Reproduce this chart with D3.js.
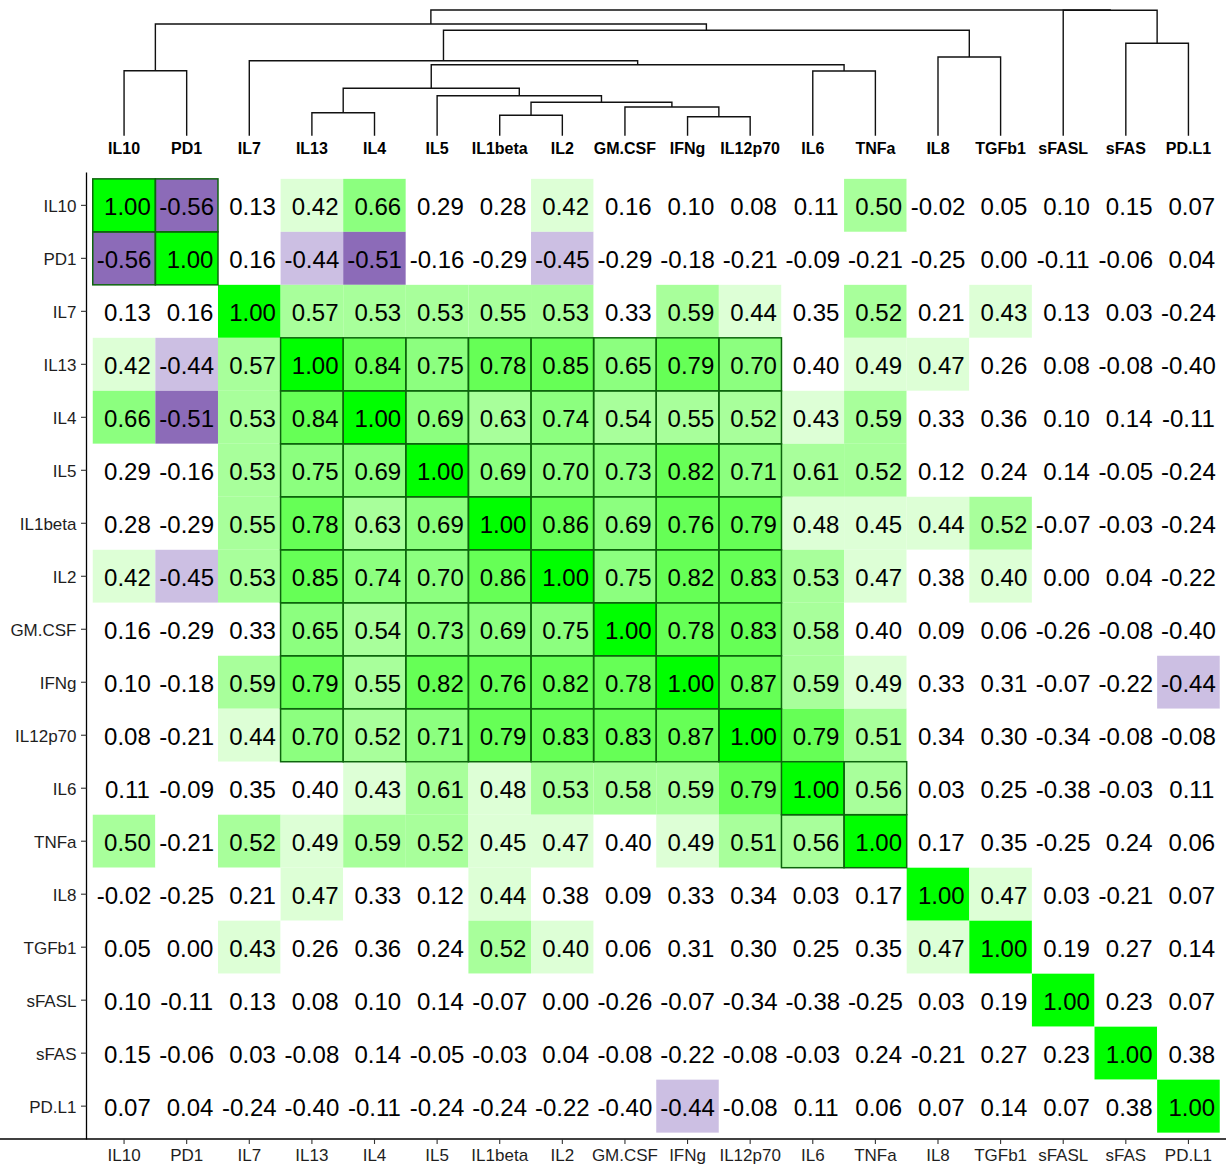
<!DOCTYPE html>
<html><head><meta charset="utf-8">
<script src="https://cdn.jsdelivr.net/npm/d3@7"></script>
<style>body{margin:0;background:#fff} svg{display:block}</style>
</head><body><svg id="c" width="1226" height="1165"></svg>
<script>
// ---------------- data ----------------
const variables = ["IL10","PD1","IL7","IL13","IL4","IL5","IL1beta","IL2","GM.CSF","IFNg","IL12p70","IL6","TNFa","IL8","TGFb1","sFASL","sFAS","PD.L1"];

const corrRows = [
 [1.00,-0.56,0.13,0.42,0.66,0.29,0.28,0.42,0.16,0.10,0.08,0.11,0.50,-0.02,0.05,0.10,0.15,0.07],
 [-0.56,1.00,0.16,-0.44,-0.51,-0.16,-0.29,-0.45,-0.29,-0.18,-0.21,-0.09,-0.21,-0.25,0.00,-0.11,-0.06,0.04],
 [0.13,0.16,1.00,0.57,0.53,0.53,0.55,0.53,0.33,0.59,0.44,0.35,0.52,0.21,0.43,0.13,0.03,-0.24],
 [0.42,-0.44,0.57,1.00,0.84,0.75,0.78,0.85,0.65,0.79,0.70,0.398,0.49,0.47,0.26,0.08,-0.08,-0.398],
 [0.66,-0.51,0.53,0.84,1.00,0.69,0.63,0.74,0.54,0.55,0.52,0.43,0.59,0.33,0.36,0.10,0.14,-0.11],
 [0.29,-0.16,0.53,0.75,0.69,1.00,0.69,0.70,0.73,0.82,0.71,0.61,0.52,0.12,0.24,0.14,-0.05,-0.24],
 [0.28,-0.29,0.55,0.78,0.63,0.69,1.00,0.86,0.69,0.76,0.79,0.48,0.45,0.44,0.52,-0.07,-0.03,-0.24],
 [0.42,-0.45,0.53,0.85,0.74,0.70,0.86,1.00,0.75,0.82,0.83,0.53,0.47,0.38,0.402,0.00,0.04,-0.22],
 [0.16,-0.29,0.33,0.65,0.54,0.73,0.69,0.75,1.00,0.78,0.83,0.58,0.398,0.09,0.06,-0.26,-0.08,-0.398],
 [0.10,-0.18,0.59,0.79,0.55,0.82,0.76,0.82,0.78,1.00,0.87,0.59,0.49,0.33,0.31,-0.07,-0.22,-0.44],
 [0.08,-0.21,0.44,0.70,0.52,0.71,0.79,0.83,0.83,0.87,1.00,0.79,0.51,0.34,0.30,-0.34,-0.08,-0.08],
 [0.11,-0.09,0.35,0.398,0.43,0.61,0.48,0.53,0.58,0.59,0.79,1.00,0.56,0.03,0.25,-0.38,-0.03,0.11],
 [0.50,-0.21,0.52,0.49,0.59,0.52,0.45,0.47,0.398,0.49,0.51,0.56,1.00,0.17,0.35,-0.25,0.24,0.06],
 [-0.02,-0.25,0.21,0.47,0.33,0.12,0.44,0.38,0.09,0.33,0.34,0.03,0.17,1.00,0.47,0.03,-0.21,0.07],
 [0.05,0.00,0.43,0.26,0.36,0.24,0.52,0.402,0.06,0.31,0.30,0.25,0.35,0.47,1.00,0.19,0.27,0.14],
 [0.10,-0.11,0.13,0.08,0.10,0.14,-0.07,0.00,-0.26,-0.07,-0.34,-0.38,-0.25,0.03,0.19,1.00,0.23,0.07],
 [0.15,-0.06,0.03,-0.08,0.14,-0.05,-0.03,0.04,-0.08,-0.22,-0.08,-0.03,0.24,-0.21,0.27,0.23,1.00,0.38],
 [0.07,0.04,-0.24,-0.398,-0.11,-0.24,-0.24,-0.22,-0.398,-0.44,-0.08,0.11,0.06,0.07,0.14,0.07,0.38,1.00]
];

// hclust-style merge table: negative = leaf (1-based), positive = earlier merge (1-based), height
const merges = [
 [-1,-2,0.650],
 [-4,-5,0.230],
 [-7,-8,0.204],
 [-10,-11,0.190],
 [-9,4,0.287],
 [3,5,0.334],
 [-6,6,0.400],
 [2,7,0.474],
 [-12,-13,0.647],
 [8,9,0.710],
 [-3,10,0.750],
 [-14,-15,0.787],
 [11,12,1.054],
 [1,13,1.117],
 [-17,-18,0.924],
 [-16,15,1.255],
 [14,16,1.257]
];

const clusterGroups = [
 ["IL10","PD1"],
 ["IL13","IL4","IL5","IL1beta","IL2","GM.CSF","IFNg","IL12p70"],
 ["IL6","TNFa"]
];

const colorBreaks = [-0.5,-0.4,0.4,0.5,0.64,0.755,0.95];
const colorBins = ["#8c6bb8","#ccbfe3","#ffffff","#ddffd6","#a8ff9b","#8cff7f","#66ff56","#00ff00"];

// ---------------- drawing ----------------
const svg = d3.select("#c");
const W = 1226, H = 1165;
const FONT = "'Liberation Sans', Arial, Helvetica, sans-serif";
svg.append("rect").attr("width",W).attr("height",H).attr("fill","#fff");

const x = d3.scaleBand().domain(variables).range([86.5, 1226]).paddingInner(0).paddingOuter(0.1);
const y = d3.scaleBand().domain(variables).range([172.5, 1139]).paddingInner(0).paddingOuter(0.12);
const color = d3.scaleThreshold().domain(colorBreaks).range(colorBins);
const loc = d3.formatLocale({decimal:".",thousands:",",grouping:[3],currency:["",""],minus:"-"});
const fmt = loc.format(" .2f");

const cells = [];
variables.forEach((rv,i)=>variables.forEach((cv,j)=>cells.push({row:rv,col:cv,v:corrRows[i][j]})));

const clusterOf = {};
clusterGroups.forEach((g,k)=>g.forEach(v=>clusterOf[v]=k));

svg.append("g").selectAll("rect").data(cells).join("rect")
  .attr("x",d=>x(d.col)).attr("y",d=>y(d.row))
  .attr("width",x.bandwidth()).attr("height",y.bandwidth())
  .attr("fill",d=>color(d.v));

const boxed = cells.filter(d=>clusterOf[d.row]!==undefined && clusterOf[d.row]===clusterOf[d.col]);
svg.append("g").selectAll("rect").data(boxed).join("rect")
  .attr("x",d=>x(d.col)).attr("y",d=>y(d.row))
  .attr("width",x.bandwidth()).attr("height",y.bandwidth())
  .attr("fill","none").attr("stroke","#0d650d").attr("stroke-width",1.5);

svg.append("g").selectAll("text").data(cells).join("text")
  .attr("x",d=>x(d.col)+x.bandwidth()/2).attr("y",d=>y(d.row)+y.bandwidth()/2)
  .attr("dy","0.41em").attr("text-anchor","middle")
  .attr("font-family",FONT)
  .attr("font-size",24).attr("fill","#000")
  .style("white-space","pre")
  .text(d=>fmt(d.v));

// axes
const axL = svg.append("g").attr("transform","translate(86.5,0)")
  .call(d3.axisLeft(y).tickSize(5.5).tickPadding(4.5));
const axB = svg.append("g").attr("transform","translate(0,1139)")
  .call(d3.axisBottom(x).tickSize(5).tickPadding(4.5));
[axL,axB].forEach(a=>{
  a.attr("font-family",FONT).attr("font-size",17);
  a.selectAll("text").attr("font-family",FONT).attr("font-size",17).attr("fill","#1e1e1e");
  a.selectAll(".tick line").attr("stroke","#333").attr("stroke-width",1.1);
  a.select(".domain").attr("stroke","#000").attr("stroke-width",1.3);
});
axL.selectAll("text").attr("dy","0.42em");
axL.select(".domain").attr("d","M0,172.5V1139.6");
axB.select(".domain").attr("d","M-0.6,0H1226");

// dendrogram
const hMax = d3.max(merges,m=>m[2]);
const hy = d3.scaleLinear().domain([0,hMax]).range([135.7,10]);
const nodes = [];
function nodePos(id){
  if(id<0){ const v=variables[-id-1]; return {x:x(v)+x.bandwidth()/2, y:hy(0)}; }
  return nodes[id-1];
}
const paths = [];
merges.forEach(m=>{
  const a=nodePos(m[0]), b=nodePos(m[1]), ym=hy(m[2]);
  paths.push(`M${a.x},${a.y}V${ym}H${b.x}V${b.y}`);
  nodes.push({x:(a.x+b.x)/2, y:ym});
});
svg.append("g").selectAll("path").data(paths).join("path")
  .attr("d",d=>d).attr("fill","none").attr("stroke","#111").attr("stroke-width",1.4);

svg.append("g").selectAll("text").data(variables).join("text")
  .attr("x",d=>x(d)+x.bandwidth()/2).attr("y",154)
  .attr("text-anchor","middle")
  .attr("font-family",FONT)
  .attr("font-weight","bold").attr("font-size",16).attr("fill","#000")
  .text(d=>d);
</script>
</body></html>
